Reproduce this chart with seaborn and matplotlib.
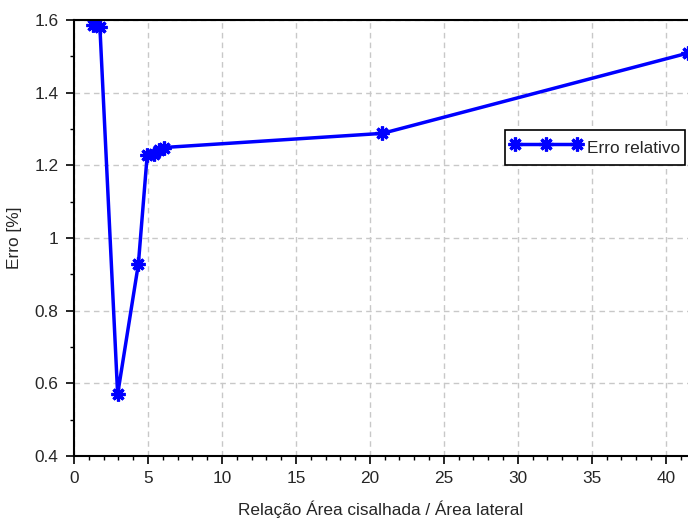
import matplotlib
matplotlib.use("Agg")
import matplotlib.pyplot as plt
import seaborn as sns
import pandas as pd
from matplotlib.ticker import MultipleLocator, FuncFormatter

relacao = [1.3, 1.75, 2.95, 4.35, 4.95, 5.4, 5.75, 6.05, 20.85, 41.5]
erro = [1.587, 1.581, 0.570, 0.928, 1.229, 1.232, 1.242, 1.249, 1.288, 1.509]
serie = ["Erro relativo"] * len(relacao)

df = pd.DataFrame({"x": relacao, "y": erro, "s": serie})

sns.set_style("ticks")
plt.rcParams["font.family"] = ["Liberation Sans", "DejaVu Sans"]
FS = 12.4
plt.rcParams["font.size"] = FS

fig = plt.figure(figsize=(6.88, 5.18), dpi=100)
ax = fig.add_axes([74/688, 1-456/518, 1-74/688, (456-20)/518])

sns.lineplot(data=df, x="x", y="y", hue="s", palette=["#0000ff"], ax=ax,
             sort=False, estimator=None, marker=(8, 2, 0), markersize=10,
             markeredgewidth=2.3, markeredgecolor="#0000ff", linewidth=2.5,
             clip_on=True)

ax.set_xlim(0, 41.5)
ax.set_ylim(0.4, 1.6)
ax.xaxis.set_major_locator(MultipleLocator(5))
ax.xaxis.set_minor_locator(MultipleLocator(1))
ax.yaxis.set_major_locator(MultipleLocator(0.2))
ax.yaxis.set_minor_locator(MultipleLocator(0.1))
ax.yaxis.set_major_formatter(FuncFormatter(lambda v, p: f"{v:g}"))
ax.tick_params(which="major", direction="out", length=6, width=1.2, labelsize=FS,
               color="black", pad=5)
ax.tick_params(which="minor", direction="out", length=3, width=1.0, color="black")
ax.grid(True, which="major", linestyle=(0, (4, 3)), color="#c8c8c8", linewidth=1.0)
for side in ["left", "bottom", "top"]:
    ax.spines[side].set_color("black")
    ax.spines[side].set_linewidth(1.5)
ax.spines["right"].set_visible(False)

ax.set_xlabel("Relação Área cisalhada / Área lateral", fontsize=FS, labelpad=10)
ax.set_ylabel("Erro [%]", fontsize=FS, labelpad=9)

leg = ax.legend(loc="upper left", bbox_to_anchor=(0.702, 0.748), numpoints=3,
                frameon=True, fancybox=False, fontsize=FS, handlelength=4.2,
                handleheight=1.8, borderpad=0.3, handletextpad=0.25,
                borderaxespad=0)
leg.get_frame().set_edgecolor("black")
leg.get_frame().set_linewidth(1.2)
leg.get_frame().set_alpha(1)

fig.savefig("out.png", dpi=100)
